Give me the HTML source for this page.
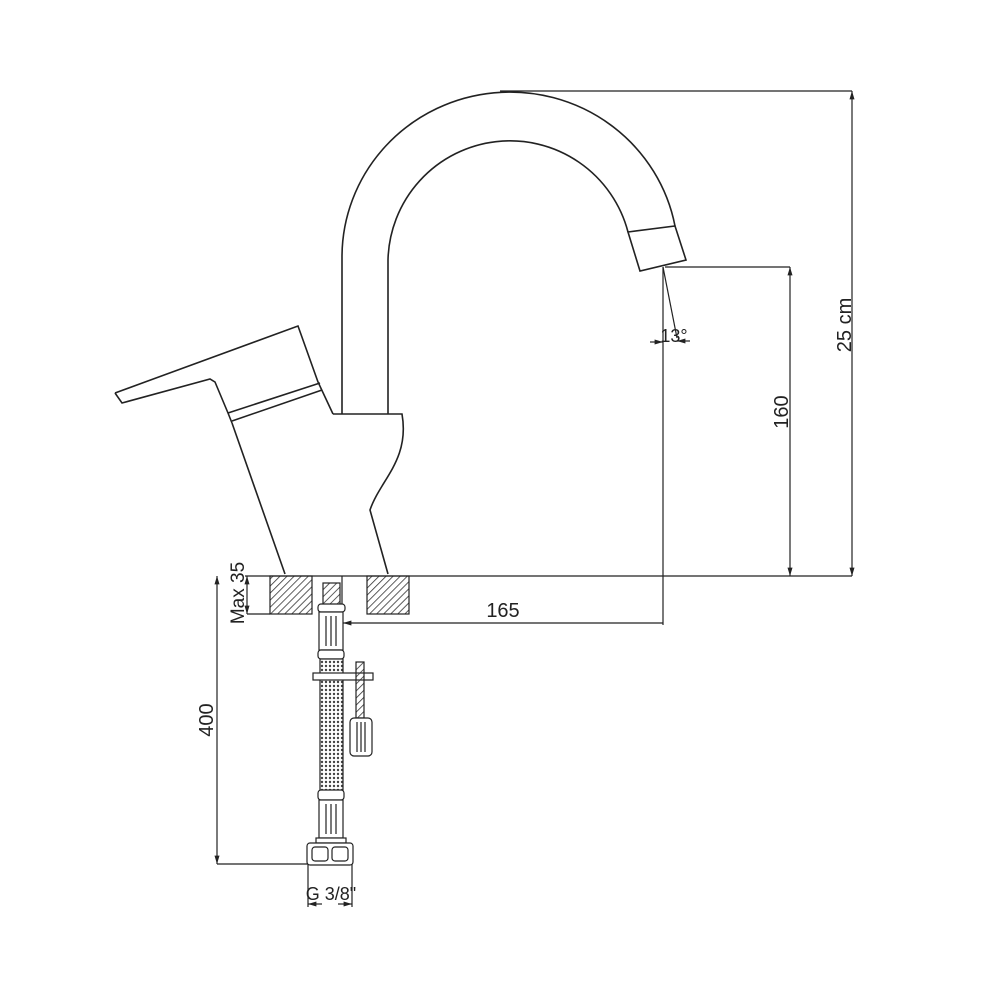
<!DOCTYPE html>
<html><head><meta charset="utf-8"><style>
html,body{margin:0;padding:0;background:#fff}
svg{display:block}
text{font-family:"Liberation Sans",sans-serif;fill:#222}
</style></head><body>
<svg width="990" height="990" viewBox="0 0 990 990" xmlns="http://www.w3.org/2000/svg">
<defs>
<pattern id="h" width="5" height="5" patternUnits="userSpaceOnUse" patternTransform="rotate(45)">
<line x1="0" y1="0" x2="0" y2="5" stroke="#333" stroke-width="1.6"/></pattern>
<pattern id="m" width="4" height="4" patternUnits="userSpaceOnUse">
<rect width="4" height="4" fill="#fff"/><circle cx="2" cy="2" r="1.2" fill="#444"/></pattern>
<marker id="a" viewBox="0 0 10 10" refX="10" refY="5" markerWidth="7" markerHeight="7" orient="auto-start-reverse"><path d="M0,2 L10,5 L0,8 z" fill="#222"/></marker>
</defs>
<g fill="none" stroke="#222" stroke-width="1.6">
<!-- spout -->
<path d="M342,414 L342,257 A168,165 0 0 1 675,226"/>
<path d="M388,414 L388,260 A122,122 0 0 1 628,232"/>
<path d="M628,232 L675,226 L686,260 L640,271 Z"/>
<!-- body -->
<path d="M333,414 L402,414 C410,460 380,480 370,510 L388,574"/>
<path d="M232,423 L285,574"/>
<!-- lever -->
<path d="M115,393 L122,403 L210,379 L215,382 L228,413 L232,423"/>
<path d="M115,393 L298,326 L318,382 L333,414"/>
<path d="M228,413 L320,383"/>
<path d="M232,421 L322,390"/>
</g>
<g fill="none" stroke="#222" stroke-width="1.2">
<line x1="245" y1="576" x2="852" y2="576"/>
<line x1="500" y1="91" x2="852" y2="91"/>
<line x1="852" y1="91" x2="852" y2="576" marker-start="url(#a)" marker-end="url(#a)"/>
<line x1="665" y1="267" x2="790" y2="267"/>
<line x1="790" y1="267" x2="790" y2="576" marker-start="url(#a)" marker-end="url(#a)"/>
<line x1="663" y1="267" x2="663" y2="625"/>
<line x1="663" y1="267" x2="677" y2="338"/>
<line x1="343" y1="623" x2="663" y2="623" marker-start="url(#a)"/>
<line x1="650" y1="342" x2="663" y2="342" marker-end="url(#a)"/>
<line x1="690" y1="341" x2="677" y2="341" marker-end="url(#a)"/>
<line x1="342" y1="576" x2="342" y2="620"/>
<line x1="247" y1="576" x2="247" y2="614" marker-start="url(#a)" marker-end="url(#a)"/>
<line x1="247" y1="614" x2="270" y2="614"/>
<line x1="217" y1="576" x2="217" y2="864" marker-start="url(#a)" marker-end="url(#a)"/>
<line x1="217" y1="864" x2="308" y2="864"/>
<line x1="308" y1="864" x2="308" y2="907"/>
<line x1="352" y1="864" x2="352" y2="907"/>
<line x1="308" y1="904" x2="322" y2="904" marker-start="url(#a)"/>
<line x1="338" y1="904" x2="352" y2="904" marker-end="url(#a)"/>
</g>
<rect x="270" y="576" width="42" height="38" fill="url(#h)" stroke="#222" stroke-width="1.2"/>
<rect x="367" y="576" width="42" height="38" fill="url(#h)" stroke="#222" stroke-width="1.2"/>
<g stroke="#222" stroke-width="1.2">
<rect x="323" y="583" width="17" height="22" fill="url(#h)"/>
<rect x="318" y="604" width="27" height="8" rx="3" fill="#fff"/>
<rect x="319" y="612" width="24" height="38" fill="#fff"/>
<line x1="326" y1="616" x2="326" y2="646"/><line x1="331" y1="616" x2="331" y2="646"/><line x1="336" y1="616" x2="336" y2="646"/>
<rect x="318" y="650" width="26" height="9" rx="3" fill="#fff"/>
<rect x="320" y="659" width="23" height="132" fill="url(#m)"/>
<rect x="313" y="673" width="60" height="7" fill="#fff"/>
<rect x="356" y="662" width="8" height="56" fill="url(#h)"/>
<rect x="350" y="718" width="22" height="38" rx="4" fill="#fff"/>
<line x1="357" y1="722" x2="357" y2="752"/><line x1="361" y1="722" x2="361" y2="752"/><line x1="365" y1="722" x2="365" y2="752"/>
<rect x="318" y="790" width="26" height="10" rx="3" fill="#fff"/>
<rect x="319" y="800" width="24" height="38" fill="#fff"/>
<line x1="326" y1="804" x2="326" y2="834"/><line x1="331" y1="804" x2="331" y2="834"/><line x1="336" y1="804" x2="336" y2="834"/>
<rect x="316" y="838" width="30" height="5" fill="#fff"/>
<rect x="307" y="843" width="46" height="22" rx="3" fill="#fff"/>
<rect x="312" y="847" width="16" height="14" rx="3" fill="#fff"/>
<rect x="332" y="847" width="16" height="14" rx="3" fill="#fff"/>
</g>
<text x="503" y="617" font-size="20" text-anchor="middle">165</text>
<text transform="translate(788,412) rotate(-90)" font-size="20" text-anchor="middle">160</text>
<text transform="translate(851,325) rotate(-90)" font-size="20" text-anchor="middle">25 cm</text>
<text transform="translate(213,720) rotate(-90)" font-size="20" text-anchor="middle">400</text>
<text transform="translate(244,593) rotate(-90)" font-size="19" text-anchor="middle">Max 35</text>
<text x="674" y="342" font-size="18" text-anchor="middle">13°</text>
<text x="331" y="900" font-size="18" text-anchor="middle">G 3/8"</text>
</svg>
</body></html>
